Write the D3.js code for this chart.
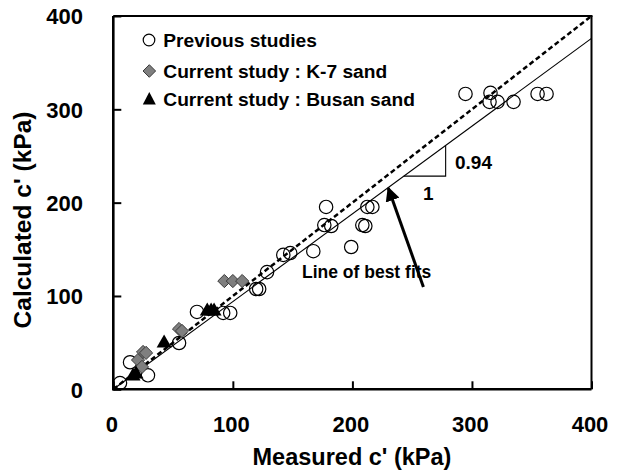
<!DOCTYPE html>
<html><head><meta charset="utf-8">
<script src="https://cdn.jsdelivr.net/npm/d3@7"></script>
<style>
html,body{margin:0;padding:0;background:#fff;}
text{font-family:"Liberation Sans",Arial,sans-serif;font-weight:bold;fill:#000;}
</style></head>
<body><svg id="c" width="617" height="470"></svg>
<script>
// ---- data ----
const previousStudies = [
  [5.6,6.7],[14,29],[29,15],[55,49.6],[70,82.9],[91.9,81.8],[97.8,81.8],
  [119.5,107.5],[122,107.5],[128.6,125.6],[142.2,144],[148,146],[167.3,148],
  [178,195.4],[176.5,176],[182.3,175],[199,152.5],[208.3,176],[210.8,175],
  [212.5,195.4],[216.7,195.4],
  [294.6,316.5],[315.5,317.6],[314.7,308],[321.4,308],[334.8,308],[354.9,316.5],[362.4,316.5]
];
const k7Sand = [
  [20.7,31.4],[24,24],[24.9,40],[27.4,39],[55,64.6],[57.5,62.5],[92.9,116],[100,116],[107.8,116]
];
const busanSand = [
  [16.5,15.3],[19,17.5],[42.5,50.7],[78.6,85],[81.8,85],[84.3,85]
];
const xTicks = [0,100,200,300,400];
const yTicks = [0,100,200,300,400];
const oneToOne = [[0,0],[400,400]];
const bestFitSlope = 0.94;
const bestFit = [[0,0],[400,400*bestFitSlope]];
const slopeTri = [243,278];
const legendLabels = ["Previous studies","Current study : K-7 sand","Current study : Busan sand"];
const xTitle = "Measured c' (kPa)";
const yTitle = "Calculated c' (kPa)";

// ---- chart ----
const svg = d3.select("#c");
const x = d3.scaleLinear().domain([0,400]).range([113.3,591.5]);
const y = d3.scaleLinear().domain([0,400]).range([389.3,16]);

// axes with inward ticks
const gx = svg.append("g").attr("transform",`translate(0,${y(0)})`)
  .call(d3.axisBottom(x).tickValues(xTicks).tickSizeInner(-8).tickSizeOuter(0));
gx.select(".domain").remove();
gx.selectAll("line").attr("stroke","#000").attr("stroke-width",2);
gx.selectAll("text").attr("y",42.4).attr("dy",null).attr("dx",-2)
  .style("font-size","22px").attr("fill","#000").attr("font-family",null);

const gy = svg.append("g").attr("transform",`translate(${x(0)},0)`)
  .call(d3.axisLeft(y).tickValues(yTicks).tickSizeInner(-8).tickSizeOuter(0));
gy.select(".domain").remove();
gy.selectAll("line").attr("stroke","#000").attr("stroke-width",2);
gy.selectAll("text").attr("x",-30.3).attr("dy","0.35em")
  .style("font-size","22px").attr("fill","#000").attr("font-family",null);

// frame
const fr = svg.append("g").attr("stroke","#000").attr("fill","none");
fr.append("line").attr("x1",x(0)).attr("x2",x(0)).attr("y1",y(0)+1).attr("y2",y(400)).attr("stroke-width",2.6);
fr.append("line").attr("x1",x(0)-1).attr("x2",x(400)).attr("y1",y(0)).attr("y2",y(0)).attr("stroke-width",2.6);
fr.append("line").attr("x1",x(0)).attr("x2",x(400)+1).attr("y1",y(400)).attr("y2",y(400)).attr("stroke-width",2);
fr.append("line").attr("x1",x(400)).attr("x2",x(400)).attr("y1",y(400)).attr("y2",y(0)).attr("stroke-width",2);

// lines
const line = d3.line().x(d=>x(d[0])).y(d=>y(d[1]));
svg.append("path").datum(oneToOne).attr("d",line).attr("fill","none")
  .attr("stroke","#000").attr("stroke-width",2.5).attr("stroke-dasharray","5,3");
svg.append("path").datum(bestFit).attr("d",line).attr("fill","none")
  .attr("stroke","#000").attr("stroke-width",1.1);

// slope triangle
const t0 = slopeTri[0], t1 = slopeTri[1];
svg.append("path").datum([[t0,t0*bestFitSlope],[t1,t0*bestFitSlope],[t1,t1*bestFitSlope]])
  .attr("d",line).attr("fill","none").attr("stroke","#000").attr("stroke-width",1.1);
svg.append("text").attr("x",455).attr("y",169).style("font-size","19px").text("0.94");
svg.append("text").attr("x",423).attr("y",200).style("font-size","19px").text("1");

// arrow + label
const defs = svg.append("defs");
defs.append("marker").attr("id","ah").attr("viewBox","0 0 10 10").attr("refX",9).attr("refY",5)
  .attr("markerWidth",4.8).attr("markerHeight",4.8).attr("orient","auto")
  .append("path").attr("d","M0,0 L10,5 L0,10 Z").attr("fill","#000");
svg.append("line").attr("x1",x(259.4)).attr("y1",y(109.6)).attr("x2",x(230)).attr("y2",y(215.8))
  .attr("stroke","#000").attr("stroke-width",3).attr("marker-end","url(#ah)");
svg.append("text").attr("x",302).attr("y",278).style("font-size","17.5px").text("Line of best fits");

// markers
const circ = d3.symbol().type(d3.symbolCircle).size(Math.PI*6.7*6.7);
svg.append("g").selectAll("path").data(previousStudies).join("path")
  .attr("d",circ).attr("transform",d=>`translate(${x(d[0])},${y(d[1])})`)
  .attr("fill","#fff").attr("fill-opacity",0).attr("stroke","#000").attr("stroke-width",1.2);
const diamond = "M0,-6.6L6.6,0L0,6.6L-6.6,0Z";
svg.append("g").selectAll("path").data(k7Sand).join("path")
  .attr("d",diamond).attr("transform",d=>`translate(${x(d[0])},${y(d[1])})`)
  .attr("fill","#7f7f7f").attr("stroke","#3a3a3a").attr("stroke-width",1);
const tri = "M0,-7.5L7.5,5.5L-7.5,5.5Z";
svg.append("g").selectAll("path").data(busanSand).join("path")
  .attr("d",tri).attr("transform",d=>`translate(${x(d[0])},${y(d[1])})`)
  .attr("fill","#000");

// legend
const lg = svg.append("g");
const ly = [40,71,99];
lg.append("circle").attr("cx",149).attr("cy",ly[0]).attr("r",5.8).attr("fill","#fff").attr("stroke","#000").attr("stroke-width",1.2);
lg.append("path").attr("d","M0,-6.3L6.3,0L0,6.3L-6.3,0Z").attr("transform",`translate(149.3,${ly[1]})`).attr("fill","#7f7f7f").attr("stroke","#3a3a3a");
lg.append("path").attr("d","M0,-7L6.5,5.5L-6.5,5.5Z").attr("transform",`translate(149.3,${ly[2]})`).attr("fill","#000");
lg.selectAll("text").data(legendLabels).join("text")
  .attr("x",163.3).attr("y",(d,i)=>ly[i]+6.5).style("font-size","19.2px").text(d=>d);

// titles
svg.append("text").attr("x",352).attr("y",465).attr("text-anchor","middle")
  .style("font-size","23.5px").text(xTitle);
svg.append("text").attr("transform","translate(31,220) rotate(-90)").attr("text-anchor","middle")
  .style("font-size","24.5px").text(yTitle);
</script></body></html>
